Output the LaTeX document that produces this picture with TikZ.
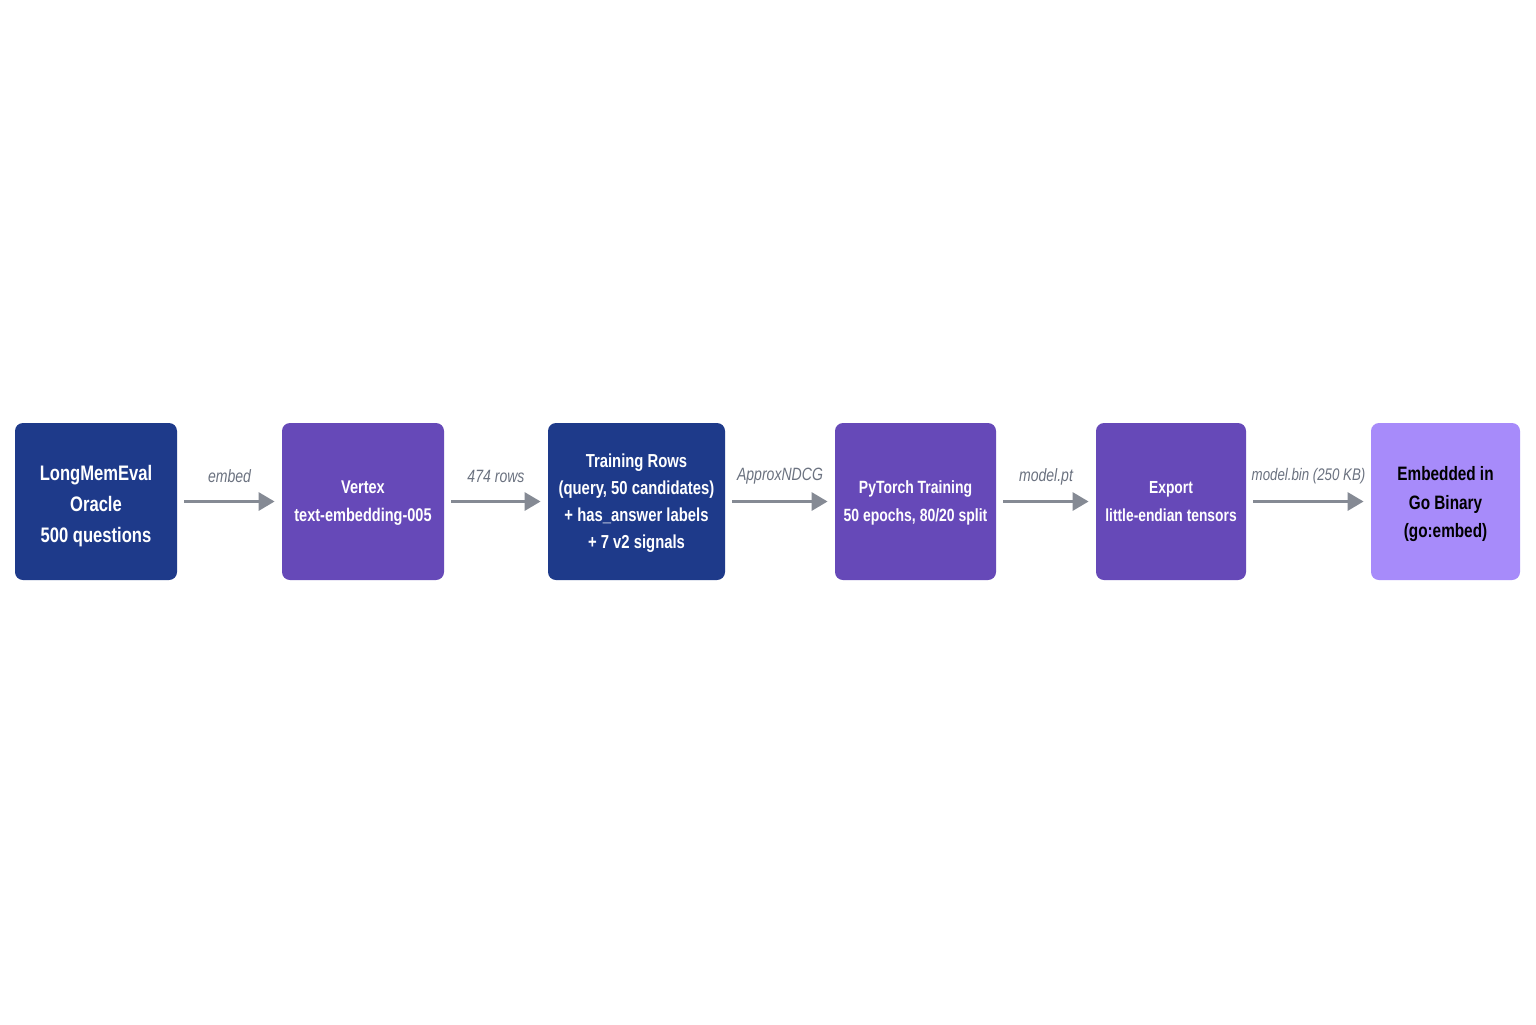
\documentclass[tikz,border=0pt]{standalone}
\usepackage{fontspec}
\setmainfont[FakeStretch=0.79]{Liberation Sans}
\usetikzlibrary{arrows.meta}
\definecolor{navy}{HTML}{1E3A8A}
\definecolor{violet}{HTML}{6649B8}
\definecolor{lilac}{HTML}{A78BFA}
\definecolor{arrowgray}{HTML}{858A94}
\definecolor{labelgray}{HTML}{6B7280}
% vertical padding of the first and last line of a box
\newcommand{\padtop}[1]{\rule{0pt}{#1}}
\newcommand{\padbot}{\rule[-2.5pt]{0pt}{0pt}}
\begin{document}
\begin{tikzpicture}[x=0.5pt,y=-0.5pt,
  box/.style={rounded corners=4pt, minimum height=78.5pt, inner sep=0pt, align=center,
    text=white, font=\fontsize{9.2}{14}\selectfont\bfseries},
  flow/.style={arrowgray, line width=1.5pt, shorten <=3.5pt, shorten >=3.5pt,
    -{Triangle[length=8pt,width=9pt]}},
  lbl/.style={midway, yshift=12.5pt, text=labelgray, font=\fontsize{8.9}{10}\selectfont\itshape}]
\fill[white] (0,0) rectangle (1536,1024);
\useasboundingbox (0,0) rectangle (1536,1024);
% pipeline stages
\node[box, fill=navy, minimum width=81pt, font=\fontsize{10.5}{15.5}\selectfont\bfseries] (oracle) at (96,501.5) {\padtop{12pt}LongMemEval\\Oracle\\500 questions\padbot};
\node[box, fill=violet, minimum width=81pt] (vertex) at (363,501.5) {\padtop{8.5pt}Vertex\\text-embedding-005\padbot};
\node[box, fill=navy, minimum width=88.5pt, font=\fontsize{9.4}{13.5}\selectfont\bfseries] (rows) at (636.5,501.5) {\padtop{8.5pt}Training Rows\\(query, 50 candidates)\\+ has\_answer labels\\+ 7 v2 signals\padbot};
\node[box, fill=violet, minimum width=80.5pt, font=\fontsize{8.85}{14}\selectfont\bfseries] (torch) at (915.5,501.5) {\padtop{8.5pt}PyTorch Training\\50 epochs, 80/20 split\padbot};
\node[box, fill=violet, minimum width=75pt, font=\fontsize{8.75}{14}\selectfont\bfseries] (export) at (1171,501.5) {\padtop{8.5pt}Export\\little-endian tensors\padbot};
\node[box, fill=lilac, text=black, minimum width=74.5pt, font=\fontsize{9.7}{14.3}\selectfont\bfseries] (gobin) at (1445.5,501.5) {\padtop{10.1pt}Embedded in\\Go Binary\\(go:embed)\padbot};
% connectors
\draw[flow] (oracle) -- node[lbl] {embed} (vertex);
\draw[flow] (vertex) -- node[lbl] {474 rows} (rows);
\draw[flow] (rows) -- node[lbl] {ApproxNDCG} (torch);
\draw[flow] (torch) -- node[lbl] {model.pt} (export);
\draw[flow] (export) -- node[lbl, font=\fontsize{8.4}{10}\selectfont\itshape] {model.bin (250 KB)} (gobin);
\end{tikzpicture}
\end{document}
